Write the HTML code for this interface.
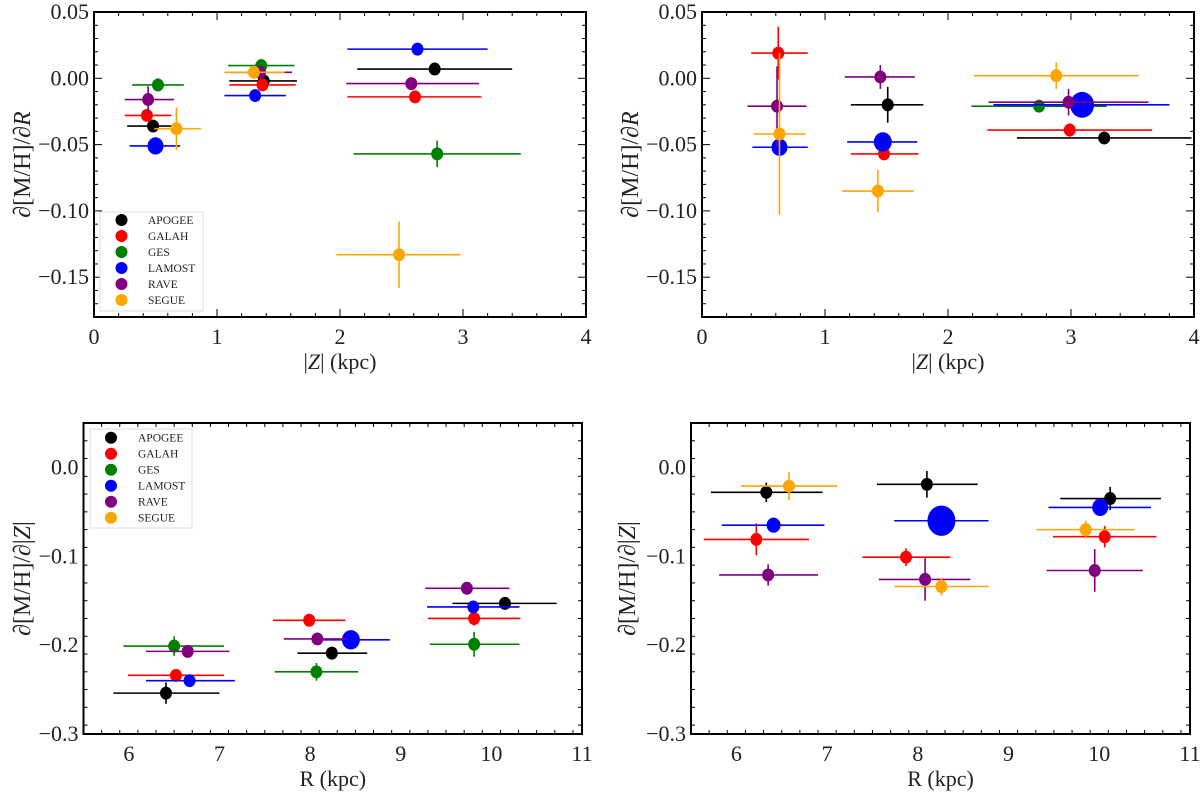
<!DOCTYPE html>
<html><head><meta charset="utf-8">
<style>
html,body{margin:0;padding:0;background:#fff;}
svg, svg text{font-family:"Liberation Serif","DejaVu Serif",serif !important;}
</style></head>
<body>
<svg id="fig" width="1200" height="791" viewBox="0 0 1200 791" font-family="Liberation Serif, DejaVu Serif, serif" xmlns="http://www.w3.org/2000/svg"></svg>
<script>
const surveys=["APOGEE","GALAH","GES","LAMOST","RAVE","SEGUE"];
const colors=["#000000","#ff0000","#008000","#0000ff","#800080","#ffa500"];

// Top-left: d[M/H]/dR vs |Z|
const tlX=[[2.77,1.38,0.48],[0.43,1.37,2.61],[0.52,1.36,2.79],[0.50,1.31,2.63],[0.44,1.35,2.58],[0.67,1.30,2.48]];
const tlY=[[0.007,-0.002,-0.036],[-0.028,-0.005,-0.014],[-0.005,0.0096,-0.057],[-0.051,-0.013,0.022],[-0.016,0.0045,-0.004],[-0.038,0.0045,-0.133]];
const tlXlo=[[2.14,1.10,0.27],[0.25,1.10,2.06],[0.31,1.09,2.11],[0.29,1.06,2.06],[0.25,1.11,2.05],[0.49,1.06,1.97]];
const tlXhi=[[3.40,1.65,0.63],[0.63,1.64,3.15],[0.73,1.63,3.47],[0.70,1.56,3.20],[0.65,1.61,3.13],[0.87,1.55,2.98]];
const tlYerr=[[0,0,0],[0,0,0],[0.005,0.005,0.01],[0,0,0],[0.01,0,0],[0.016,0.005,0.025]];
const tlSize=[[6,6,6],[6,6,6],[6,6,6],[8,6,6],[6,6,6],[6,6,6]];

// Top-right
const trX=[[1.51,3.27],[0.62,1.48,2.99],[2.74],[0.63,1.47,3.09],[0.61,1.45,2.98],[0.63,1.43,2.88]];
const trY=[[-0.020,-0.045],[0.019,-0.057,-0.039],[-0.021],[-0.052,-0.048,-0.020],[-0.021,0.001,-0.018],[-0.042,-0.085,0.002]];
const trXlo=[[1.21,2.56],[0.40,1.21,2.32],[2.19],[0.41,1.18,2.37],[0.37,1.16,2.33],[0.42,1.14,2.21]];
const trXhi=[[1.80,3.98],[0.86,1.76,3.66],[3.29],[0.86,1.75,3.80],[0.85,1.73,3.63],[0.84,1.72,3.55]];
const trYerr=[[0.0135,0],[0.02,0.004,0.005],[0],[0,0,0],[0.03,0.009,0.01],[0.061,0.016,0.01]];
const trSize=[[6,6],[6,6,6],[6],[8,9,12],[6,6,6],[6,6,6]];

// Bottom-left: d[M/H]/d|Z| vs R
const blX=[[6.41,8.24,10.15],[6.52,7.99,9.81],[6.50,8.07,9.81],[6.67,8.45,9.80],[6.65,8.08,9.73],[]];
const blY=[[-0.254,-0.209,-0.153],[-0.234,-0.172,-0.170],[-0.201,-0.230,-0.199],[-0.240,-0.194,-0.157],[-0.207,-0.193,-0.136],[]];
const blXlo=[[5.83,7.86,9.57],[5.99,7.59,9.30],[5.94,7.61,9.32],[6.19,8.14,9.29],[6.19,7.71,9.27],[]];
const blXhi=[[7.00,8.63,10.72],[7.05,8.39,10.32],[7.05,8.53,10.31],[7.17,8.88,10.31],[7.11,8.40,10.20],[]];
const blYerr=[[0.012,0,0],[0,0,0.008],[0.011,0.01,0.014],[0,0,0],[0,0,0],[]];
const blSize=[[6,6,6],[6,6,6],[6,6,6],[6,9,6],[6,6,6],[]];

// Bottom-right
const brX=[[6.33,8.10,10.12],[6.22,7.87,10.06],[],[6.41,8.26,10.01],[6.35,8.08,9.95],[6.58,8.26,9.85]];
const brY=[[-0.028,-0.019,-0.035],[-0.081,-0.101,-0.078],[],[-0.065,-0.060,-0.045],[-0.121,-0.126,-0.116],[-0.021,-0.134,-0.070]];
const brXlo=[[5.72,7.55,9.57],[5.64,7.39,9.49],[],[5.84,7.74,9.44],[5.81,7.57,9.42],[6.05,7.74,9.31]];
const brXhi=[[6.95,8.66,10.68],[6.80,8.36,10.63],[],[6.97,8.78,10.57],[6.90,8.58,10.48],[7.11,8.78,10.39]];
const brYerr=[[0.011,0.015,0.013],[0.018,0.01,0.012],[],[0,0,0],[0.012,0.024,0.024],[0.016,0.01,0.01]];
const brSize=[[6,6,6],[6,6,6],[],[7,14,8],[6,6,6],[6,6,6]];

const topXTicks=["0","1","2","3","4"];
const topYTicks=["0.05","0.00","\u22120.05","\u22120.10","\u22120.15"];
const botXTicks=["6","7","8","9","10","11"];
const botYTicks=["0.0","\u22120.1","\u22120.2","\u22120.3"];

const NS="http://www.w3.org/2000/svg";
const FF="Liberation Serif, DejaVu Serif, serif";
const svg=document.getElementById('fig');
function mk(tag,attrs,parent){const e=document.createElementNS(NS,tag);for(const k in attrs)e.setAttribute(k,attrs[k]);if(tag==='text')e.setAttribute('font-family',FF);(parent||svg).appendChild(e);return e;}
function num(s){return parseFloat(s.replace('\u2212','-'));}

function panel(cfg){
  const g=mk('g',{});
  
  
  const sx=v=>cfg.L+(v-cfg.x0)/(cfg.x1-cfg.x0)*(cfg.R-cfg.L);
  const sy=v=>cfg.B-(v-cfg.y0)/(cfg.y1-cfg.y0)*(cfg.B-cfg.T);
  const tg=mk('g',{stroke:'#000','stroke-width':1},g);
  
  
  for(let v=cfg.x0;v<=cfg.x1+1e-9;v+=cfg.xminor){
    const x=sx(v);const maj=Math.abs(v/cfg.xmajor-Math.round(v/cfg.xmajor))<1e-6;const l=maj?8:4;
    mk('line',{x1:x,x2:x,y1:cfg.B,y2:cfg.B-l},tg);mk('line',{x1:x,x2:x,y1:cfg.T,y2:cfg.T+l},tg);
  }
  for(let v=cfg.y1;v>=cfg.y0-1e-9;v-=cfg.yminor){
    const y=sy(v);const maj=Math.abs(v/cfg.ymajor-Math.round(v/cfg.ymajor))<1e-6;const l=maj?8:4;
    mk('line',{x1:cfg.L,x2:cfg.L+l,y1:y,y2:y},tg);mk('line',{x1:cfg.R,x2:cfg.R-l,y1:y,y2:y},tg);
  }
  cfg.xt.forEach(t=>{const e=mk('text',{x:sx(num(t)),y:cfg.B+27,'font-size':22,'text-anchor':'middle',fill:'#222'},g);e.textContent=t;
    });
  cfg.yt.forEach(t=>{const e=mk('text',{x:cfg.L-5,y:sy(num(t))+7,'font-size':22,'text-anchor':'end',fill:'#222'},g);e.textContent=t;
    });
  for(let s=0;s<6;s++){
    const sg=mk('g',{},g);
    
    
    cfg.X[s].forEach((xv,i)=>{
      const c=colors[s];
      mk('line',{x1:sx(cfg.Xlo[s][i]),x2:sx(cfg.Xhi[s][i]),y1:sy(cfg.Y[s][i]),y2:sy(cfg.Y[s][i]),stroke:c,'stroke-width':1.6},sg);
      if(cfg.E[s][i]>0)mk('line',{x1:sx(xv),x2:sx(xv),y1:sy(cfg.Y[s][i]-cfg.E[s][i]),y2:sy(cfg.Y[s][i]+cfg.E[s][i]),stroke:c,'stroke-width':1.6},sg);
      const p=mk('ellipse',{cx:sx(xv),cy:sy(cfg.Y[s][i]),rx:cfg.S[s][i],ry:cfg.S[s][i]*1.08,fill:c},sg);
      
      
    });
  }
  const fr=mk('rect',{x:cfg.L,y:cfg.T,width:cfg.R-cfg.L,height:cfg.B-cfg.T,fill:'none',stroke:'#000','stroke-width':2},g);
  
  const xl=mk('text',{x:(cfg.L+cfg.R)/2,y:cfg.B+52,'font-size':22,'text-anchor':'middle',fill:'#222'},g);
  xl.innerHTML=cfg.xlabel;
  const cy=(cfg.T+cfg.B)/2;
  const yl=mk('text',{x:cfg.ylx,y:cy,'font-size':24,'text-anchor':'middle',fill:'#222',transform:`rotate(-90 ${cfg.ylx} ${cy})`},g);
  yl.innerHTML=cfg.ylabel;
  if(cfg.legend){
    const lg=mk('g',{},g);
    const [bx,by,bw,bh,mx,tx,ey]=cfg.legend;
    mk('rect',{x:bx,y:by,width:bw,height:bh,fill:'#fff',stroke:'#ddd','stroke-width':1},lg);
    surveys.forEach((n,i)=>{
      const le=mk('g',{},lg);
      mk('circle',{cx:mx,cy:ey+16*i,r:6,fill:colors[i]},le);
      const t=mk('text',{x:tx,y:ey+16*i+4,'font-size':11.5,fill:'#222'},le);t.textContent=n;
    });
  }
}
const zl='|<tspan font-style="italic">Z</tspan>| (kpc)';
const ylR='∂[M/H]/∂<tspan font-style="italic">R</tspan>';
const ylZ='∂[M/H]/∂|<tspan font-style="italic">Z</tspan>|';
panel({name:'panel-top-left',L:94,R:586,T:12,B:317,x0:0,x1:4,y0:-0.18,y1:0.05,xmajor:1,xminor:0.2,ymajor:0.05,yminor:0.01,
  xt:topXTicks,yt:topYTicks,X:tlX,Y:tlY,Xlo:tlXlo,Xhi:tlXhi,E:tlYerr,S:tlSize,xlabel:zl,ylabel:ylR,ylx:30,
  legend:[100,212,103,99,121.5,148,220]});
panel({name:'panel-top-right',L:702,R:1194,T:12,B:317,x0:0,x1:4,y0:-0.18,y1:0.05,xmajor:1,xminor:0.2,ymajor:0.05,yminor:0.01,
  xt:topXTicks,yt:topYTicks,X:trX,Y:trY,Xlo:trXlo,Xhi:trXhi,E:trYerr,S:trSize,xlabel:zl,ylabel:ylR,ylx:638});
panel({name:'panel-bottom-left',L:83.5,R:582,T:423,B:734,x0:5.5,x1:11,y0:-0.3,y1:0.05,xmajor:1,xminor:0.2,ymajor:0.1,yminor:0.02,
  xt:botXTicks,yt:botYTicks,X:blX,Y:blY,Xlo:blXlo,Xhi:blXhi,E:blYerr,S:blSize,xlabel:'R (kpc)',ylabel:ylZ,ylx:30,
  legend:[90,429,102,99,111,138,437.7]});
panel({name:'panel-bottom-right',L:691,R:1190,T:423,B:734,x0:5.5,x1:11,y0:-0.3,y1:0.05,xmajor:1,xminor:0.2,ymajor:0.1,yminor:0.02,
  xt:botXTicks,yt:botYTicks,X:brX,Y:brY,Xlo:brXlo,Xhi:brXhi,E:brYerr,S:brSize,xlabel:'R (kpc)',ylabel:ylZ,ylx:635});
</script>
</body></html>
